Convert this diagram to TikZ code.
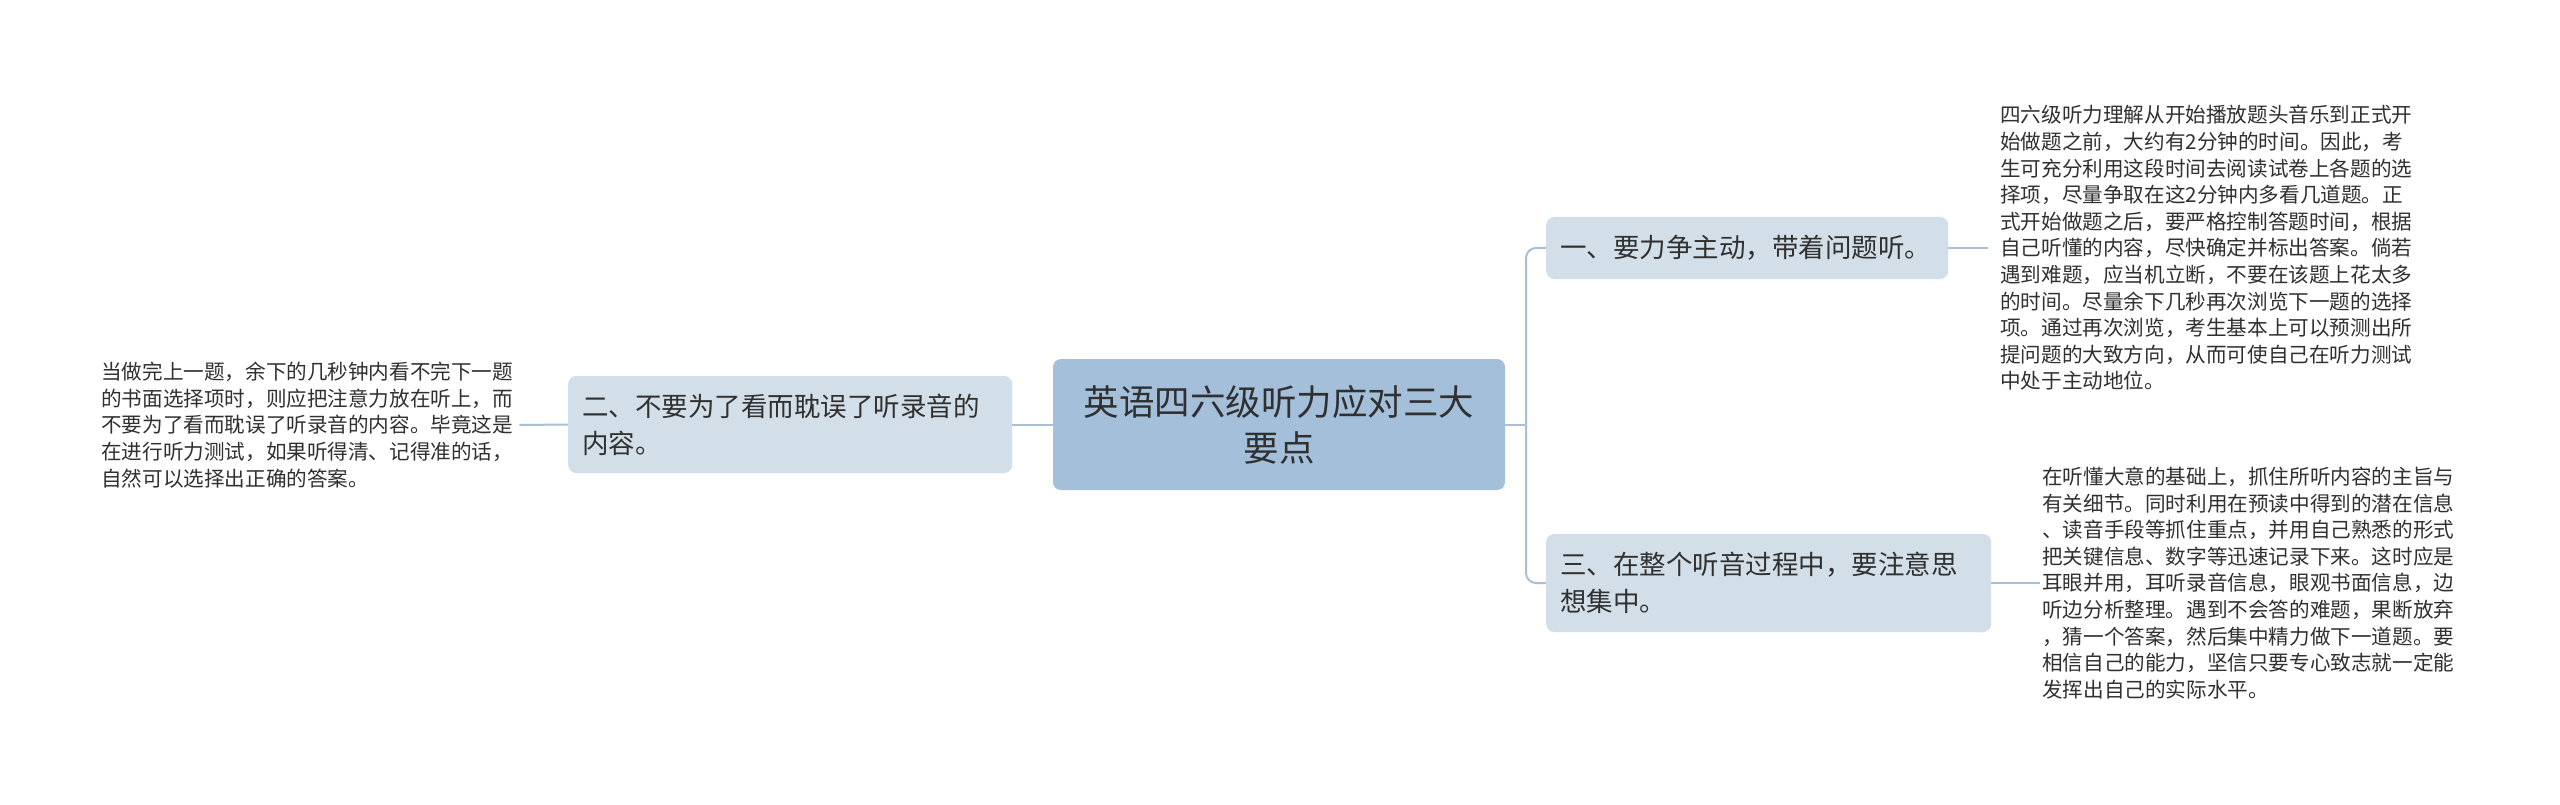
\documentclass[tikz,border=0pt]{standalone}
\usepackage{fontspec}
\setmainfont{Noto Sans CJK SC}
\definecolor{rootc}{HTML}{A3BFDA}
\definecolor{subc}{HTML}{D3DFE8}
\definecolor{linec}{HTML}{A7C0D8}
\definecolor{textc}{HTML}{303030}
\begin{document}
\begin{tikzpicture}[x=1pt,y=-1pt,
  conn/.style={draw=linec, line width=2pt},
  rootbox/.style={fill=rootc, rounded corners=8pt, minimum width=452pt, minimum height=131pt, align=center, text=textc, font=\fontsize{35.5}{46}\selectfont, inner sep=0pt},
  subbox/.style={fill=subc, rounded corners=8pt, align=left, text=textc, font=\fontsize{26.5}{36.7}\selectfont, inner xsep=14pt, inner ysep=0pt, anchor=west},
  leaf/.style={align=left, text=textc, font=\fontsize{20.6}{26.6}\selectfont, inner ysep=0pt, anchor=west}]
\useasboundingbox[fill=white] (0,0) rectangle (2560,805);

\node[rootbox] (root) at (1279,424.5) {英语四六级听力应对三大\\要点};

\node[subbox, text width=374pt, minimum height=62pt] (b1) at (1546,248) {一、要力争主动，带着问题听。};
\node[subbox, text width=417pt, minimum height=98pt] (b3) at (1546,583) {三、在整个听音过程中，要注意思\\想集中。};
\node[subbox, text width=416pt, minimum height=97pt] (b2) at (568,424.5) {二、不要为了看而耽误了听录音的\\内容。};

\node[leaf, inner xsep=6pt] (t2) at (95,425) {当做完上一题，余下的几秒钟内看不完下一题\\的书面选择项时，则应把注意力放在听上，而\\不要为了看而耽误了听录音的内容。毕竟这是\\在进行听力测试，如果听得清、记得准的话，\\自然可以选择出正确的答案。};

\node[leaf, inner xsep=12pt] (t1) at (1988,248) {四六级听力理解从开始播放题头音乐到正式开\\始做题之前，大约有2分钟的时间。因此，考\\生可充分利用这段时间去阅读试卷上各题的选\\择项，尽量争取在这2分钟内多看几道题。正\\式开始做题之后，要严格控制答题时间，根据\\自己听懂的内容，尽快确定并标出答案。倘若\\遇到难题，应当机立断，不要在该题上花太多\\的时间。尽量余下几秒再次浏览下一题的选择\\项。通过再次浏览，考生基本上可以预测出所\\提问题的大致方向，从而可使自己在听力测试\\中处于主动地位。};

\node[leaf, inner xsep=2pt] (t3) at (2040,583) {在听懂大意的基础上，抓住所听内容的主旨与\\有关细节。同时利用在预读中得到的潜在信息\\、读音手段等抓住重点，并用自己熟悉的形式\\把关键信息、数字等迅速记录下来。这时应是\\耳眼并用，耳听录音信息，眼观书面信息，边\\听边分析整理。遇到不会答的难题，果断放弃\\，猜一个答案，然后集中精力做下一道题。要\\相信自己的能力，坚信只要专心致志就一定能\\发挥出自己的实际水平。};

\coordinate (j) at (1526,424.5);
\draw[conn] (root.east) -- (j);
\draw[conn, rounded corners=10pt] (j) |- (b1.west);
\draw[conn, rounded corners=10pt] (j) |- (b3.west);
\draw[conn] (root.west) -- (b2.east);
\draw[conn] (b2.west) -- (t2.east);
\draw[conn] (b1.east) -- (t1.west);
\draw[conn] (b3.east) -- (t3.west);
\end{tikzpicture}
\end{document}
